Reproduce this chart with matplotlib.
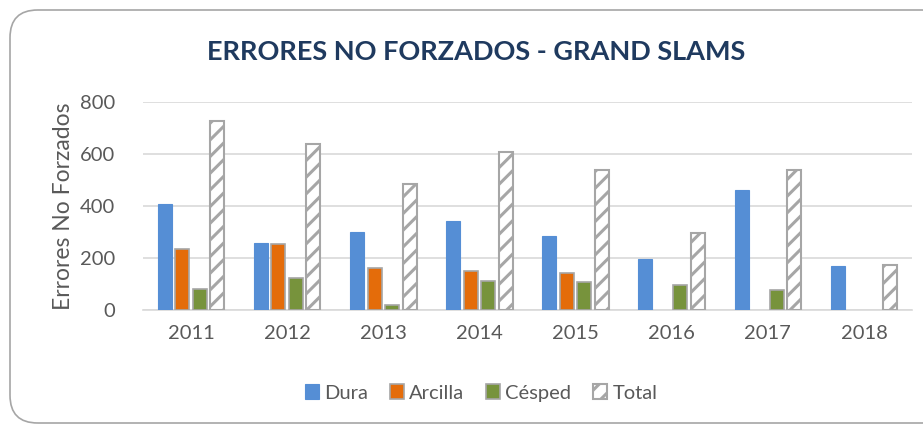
import numpy as np
import matplotlib
matplotlib.use("Agg")
import matplotlib.pyplot as plt
from matplotlib.patches import FancyBboxPatch

years = ["2011", "2012", "2013", "2014", "2015", "2016", "2017", "2018"]
dura = [408, 259, 301, 344, 284, 197, 461, 171]
arcilla = [234, 252, 163, 151, 143, 0, 0, 0]
cesped = [82, 125, 18, 112, 109, 98, 77, 0]
total = [727, 637, 484, 607, 539, 296, 539, 174]

series_names = ["Dura", "Arcilla", "Césped", "Total"]

plt.rcParams["font.family"] = ["Lato", "DejaVu Sans"]
plt.rcParams["hatch.color"] = "#A6A6A6"
plt.rcParams["hatch.linewidth"] = 2.2

W, H = 923, 425
fig = plt.figure(figsize=(W / 100, H / 100), dpi=100)

# rounded chart frame, cropped on the right/bottom like the screenshot
frame = FancyBboxPatch((10 / W, 1 - 423 / H), 940 / W, 413 / H,
                       boxstyle="round,pad=0,rounding_size=0.03",
                       transform=fig.transFigure, fill=False,
                       edgecolor="#A6A6A6", linewidth=1.2,
                       mutation_aspect=W / H)
fig.patches.append(frame)

ax = fig.add_axes([143 / W, 1 - 310 / H, (912 - 143) / W, (310 - 102) / H])

x = np.arange(len(years))
step = 0.182
bw = 0.146
grey = "#A6A6A6"


def edges(vals, col):
    # no outline on empty (zero) bars
    return [col if v > 0 else "none" for v in vals]


ax.bar(x - 1.5 * step, dura, bw, color="#558ED5", edgecolor=edges(dura, "#558ED5"),
       linewidth=0.8, label=series_names[0], zorder=3)
ax.bar(x - 0.5 * step, arcilla, bw, color="#E46C0A", edgecolor=edges(arcilla, grey),
       linewidth=1.2, label=series_names[1], zorder=3)
ax.bar(x + 0.5 * step, cesped, bw, color="#77933C", edgecolor=edges(cesped, grey),
       linewidth=1.2, label=series_names[2], zorder=3)
ax.bar(x + 1.5 * step, total, bw, color="white", edgecolor=edges(total, grey),
       linewidth=1.5, hatch="//", label=series_names[3], zorder=3)

ax.set_xlim(-0.5, len(years) - 0.5)
ax.set_ylim(0, 800)
ax.set_yticks([0, 200, 400, 600, 800])
ax.set_xticks(x)
ax.set_xticklabels(years)
ax.yaxis.grid(True, color="#D9D9D9", linewidth=1.2, zorder=0)
ax.set_axisbelow(True)
for s in ["top", "right", "left"]:
    ax.spines[s].set_visible(False)
ax.spines["bottom"].set_color("#D9D9D9")
ax.spines["bottom"].set_linewidth(1.2)
ax.tick_params(axis="both", length=0, labelsize=14.5, labelcolor="#595959")
ax.tick_params(axis="x", pad=11)
ax.tick_params(axis="y", pad=20)

ax.set_ylabel("Errores No Forzados", fontsize=16.5, color="#595959", labelpad=4)

fig.text(476 / W, 1 - 52 / H, "ERRORES NO FORZADOS - GRAND SLAMS",
         ha="center", va="center", fontsize=19.5, fontweight="bold",
         color="#1F3A5F")

leg = fig.legend(loc="center", bbox_to_anchor=(481 / W, 1 - 393 / H), ncol=4,
                 frameon=False, fontsize=14.5, handlelength=0.7, handleheight=0.7,
                 handletextpad=0.25, columnspacing=1.1)
for t in leg.get_texts():
    t.set_color("#595959")

fig.savefig("out.png", dpi=100)
